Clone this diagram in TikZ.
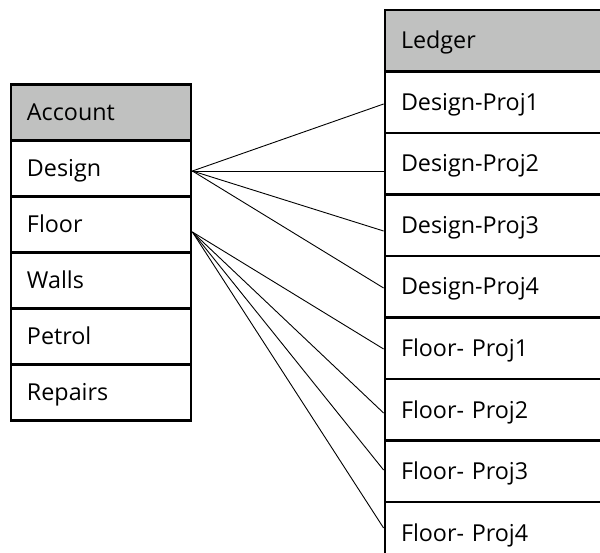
\documentclass[tikz,border=0pt]{standalone}
\usepackage{fontspec}
\setmainfont{Open Sans}
\definecolor{hdrgray}{RGB}{192,193,192}
\tikzset{
  cell/.style={draw=black, line width=2.8pt, rectangle, anchor=center,
    minimum height=#1, text height=16.5pt, text depth=0pt,
    inner xsep=16pt, align=left, font=\fontsize{23.3}{27}\selectfont},
  lcell/.style={cell=56pt, text width=148pt},
  rcell/.style={cell=61.5pt, text width=198pt},
  hdr/.style={fill=hdrgray},
  link/.style={draw=black, line width=0.9pt}
}
\begin{document}
\begin{tikzpicture}[x=1pt,y=-1pt]
\useasboundingbox (0,0) rectangle (600,553);
\clip (0,0) rectangle (600,553);
\fill[white] (0,0) rectangle (600,553);

% Account table
\node[lcell,hdr] (acc) at (101,112.5) {Account};
\node[lcell] (ades) at (101,168.5) {Design};
\node[lcell] (aflo) at (101,224.5) {Floor};
\node[lcell] (awal) at (101,280.5) {Walls};
\node[lcell] (apet) at (101,336.5) {Petrol};
\node[lcell] (arep) at (101,392.5) {Repairs};

% Ledger table
\node[rcell,hdr] (led) at (500,40.75) {Ledger};
\node[rcell] (ld1) at (500,102.25) {Design-Proj1};
\node[rcell] (ld2) at (500,163.75) {Design-Proj2};
\node[rcell] (ld3) at (500,225.25) {Design-Proj3};
\node[rcell] (ld4) at (500,286.75) {Design-Proj4};
\node[rcell] (lf1) at (500,348.25) {Floor- Proj1};
\node[rcell] (lf2) at (500,409.75) {Floor- Proj2};
\node[rcell] (lf3) at (500,471.25) {Floor- Proj3};
\node[rcell] (lf4) at (500,532.75) {Floor- Proj4};

% fan-out points on the Account rows
\coordinate (dsrc) at ([yshift=-2.5pt]ades.east);
\coordinate (fsrc) at ([yshift=-7.5pt]aflo.east);

% Design links
\draw[link] (dsrc) -- ([yshift=-1.75pt]ld1.west);
\draw[link] (dsrc) -- ([yshift=-7.25pt]ld2.west);
\draw[link] (dsrc) -- ([yshift=-5.75pt]ld3.west);
\draw[link] (dsrc) -- ([yshift=-1.25pt]ld4.west);

% Floor links
\draw[link] (fsrc) -- ([yshift=-0.75pt]lf1.west);
\draw[link] (fsrc) -- ([yshift=-3.25pt]lf2.west);
\draw[link] (fsrc) -- ([yshift=1.25pt]lf3.west);
\draw[link] (fsrc) -- ([yshift=4.75pt]lf4.west);
\end{tikzpicture}
\end{document}
